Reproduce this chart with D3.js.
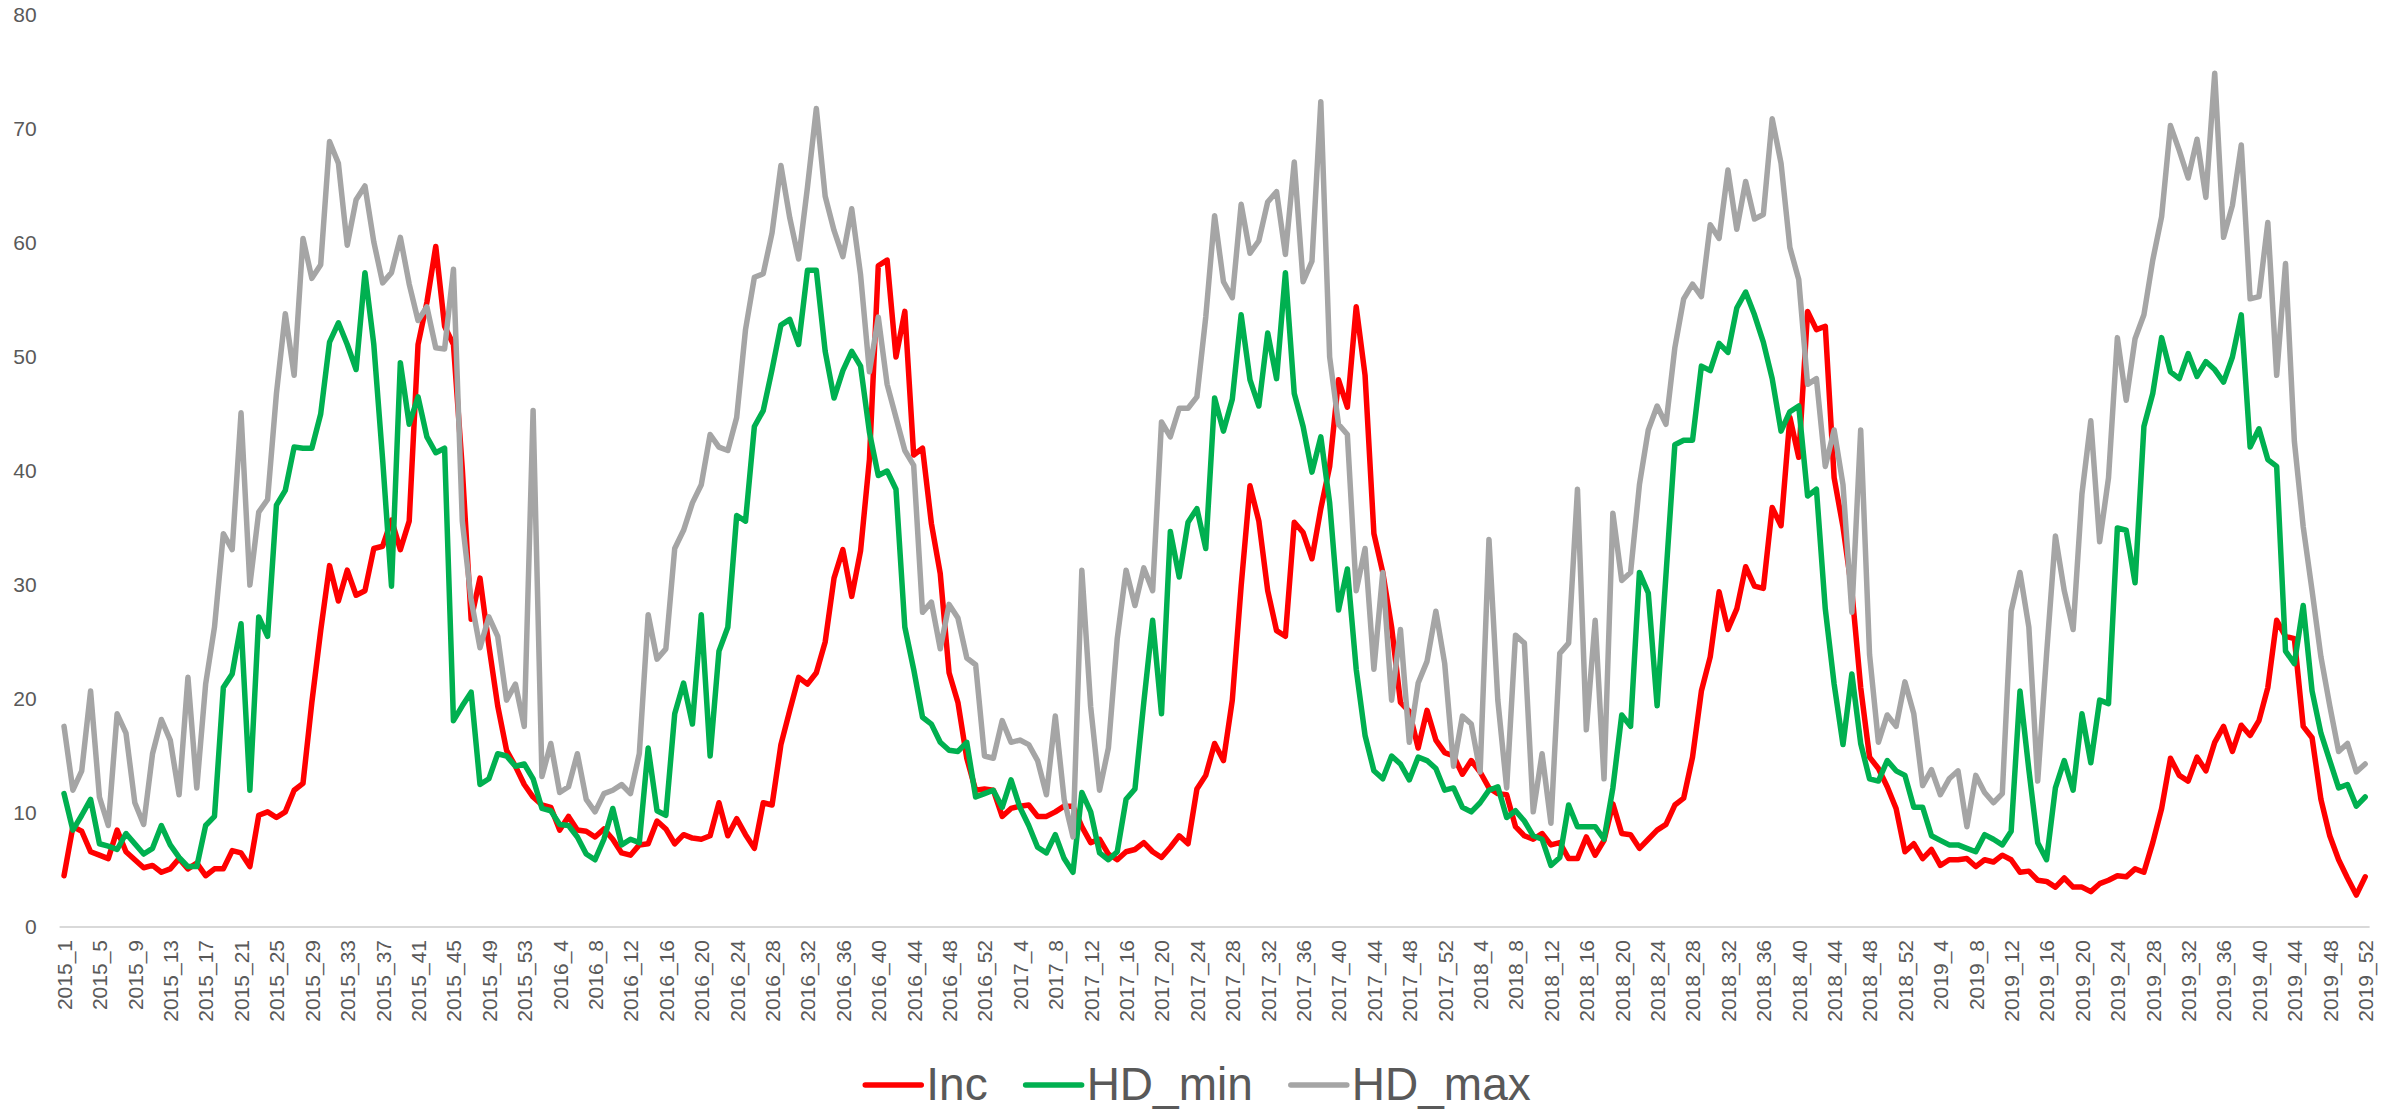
<!DOCTYPE html>
<html>
<head>
<meta charset="utf-8">
<title>Inc, HD_min, HD_max by week, 2015–2019</title>
<script src="https://cdn.jsdelivr.net/npm/d3@7"></script>
<style>
  html, body { margin: 0; padding: 0; background: #ffffff; }
  svg { display: block; }
  text { font-family: "Liberation Sans", Arial, "DejaVu Sans", sans-serif; fill: #595959; }
</style>
</head>
<body>
<svg id="chart" width="2402" height="1110"></svg>
<script>
// Weekly categories: 2015 has 53 ISO weeks, the other years 52.
const years = [2015, 2016, 2017, 2018, 2019];
const weeksInYear = [53, 52, 52, 52, 52];

// Inc (incidence), one value per week
const incValues = [
  4.5, 8.8, 8.4, 6.6, 6.3, 6.0, 8.5, 6.6, 5.9, 5.2,
  5.4, 4.8, 5.1, 6.0, 5.1, 5.6, 4.5, 5.1, 5.1, 6.7,
  6.5, 5.3, 9.8, 10.1, 9.6, 10.1, 12.0, 12.6, 19.7, 26.0,
  31.7, 28.6, 31.3, 29.1, 29.5, 33.2, 33.4, 35.7, 33.1, 35.6,
  51.1, 54.8, 59.7, 52.7, 51.1, 40.2, 27.0, 30.6, 24.7, 19.4,
  15.5, 14.1, 12.5, 11.4, 10.7, 10.5, 8.5, 9.7, 8.5, 8.4,
  7.9, 8.6, 7.7, 6.5, 6.3, 7.2, 7.3, 9.3, 8.6, 7.3,
  8.1, 7.8, 7.7, 8.0, 10.9, 8.0, 9.5, 8.1, 6.9, 10.9,
  10.7, 16.0, 19.0, 21.9, 21.3, 22.3, 25.0, 30.6, 33.1, 29.0,
  33.0, 41.0, 58.0, 58.5, 50.0, 54.0, 41.4, 42.0, 35.4, 31.0,
  22.3, 19.7, 14.8, 12.0, 12.1, 12.0, 9.7, 10.4, 10.6, 10.7,
  9.7, 9.7, 10.1, 10.6, 10.6, 8.8, 7.4, 7.7, 6.4, 5.9,
  6.6, 6.8, 7.4, 6.6, 6.1, 7.0, 8.0, 7.3, 12.1, 13.3,
  16.1, 14.6, 19.9, 29.9, 38.7, 35.6, 29.5, 26.0, 25.5, 35.5,
  34.6, 32.3, 36.7, 40.4, 48.0, 45.6, 54.4, 48.4, 34.5, 31.1,
  26.3, 19.7, 18.9, 15.7, 19.0, 16.4, 15.3, 15.0, 13.4, 14.6,
  13.6, 12.2, 11.7, 11.6, 8.8, 8.0, 7.7, 8.2, 7.2, 7.4,
  6.0, 6.0, 7.9, 6.3, 7.6, 10.8, 8.2, 8.1, 6.9, 7.7,
  8.5, 9.0, 10.7, 11.3, 14.9, 20.7, 23.7, 29.4, 26.1, 27.9,
  31.6, 29.9, 29.7, 36.8, 35.2, 44.7, 41.2, 54.0, 52.4, 52.7,
  39.4, 35.1, 29.5, 21.0, 14.9, 13.9, 12.3, 10.4, 6.6, 7.3,
  6.0, 6.8, 5.4, 5.9, 5.9, 6.0, 5.3, 5.9, 5.7, 6.3,
  5.9, 4.8, 4.9, 4.1, 4.0, 3.5, 4.3, 3.5, 3.5, 3.1,
  3.8, 4.1, 4.5, 4.4, 5.1, 4.8, 7.4, 10.4, 14.8, 13.3,
  12.8, 14.9, 13.7, 16.2, 17.6, 15.4, 17.7, 16.8, 18.1, 21.0,
  26.9, 25.5, 25.3, 17.6, 16.6, 11.2, 8.0, 5.9, 4.3, 2.8,
  4.4
];

// HD_min, one value per week
const hdMinValues = [
  11.7, 8.5, 9.8, 11.2, 7.3, 7.1, 6.8, 8.2, 7.3, 6.4,
  6.9, 8.9, 7.2, 6.1, 5.3, 5.3, 8.9, 9.7, 21.0, 22.2,
  26.6, 12.0, 27.2, 25.5, 37.0, 38.3, 42.1, 42.0, 42.0, 45.0,
  51.3, 53.0, 51.1, 48.9, 57.4, 51.1, 41.0, 29.9, 49.5, 44.1,
  46.5, 43.0, 41.6, 42.0, 18.1, 19.4, 20.6, 12.5, 13.0, 15.2,
  15.0, 14.1, 14.3, 13.0, 10.4, 10.2, 9.0, 8.9, 7.9, 6.4,
  5.9, 7.7, 10.4, 7.2, 7.7, 7.4, 15.7, 10.2, 9.8, 18.7,
  21.4, 17.8, 27.4, 15.0, 24.2, 26.3, 36.1, 35.6, 43.9, 45.3,
  48.9, 52.8, 53.3, 51.1, 57.6, 57.6, 50.5, 46.4, 48.8, 50.5,
  49.2, 43.4, 39.6, 40.0, 38.4, 26.3, 22.6, 18.4, 17.8, 16.2,
  15.5, 15.4, 16.2, 11.4, 11.7, 12.0, 10.5, 12.9, 10.5, 8.9,
  7.0, 6.5, 8.1, 6.0, 4.8, 11.8, 10.1, 6.5, 5.9, 6.6,
  11.2, 12.1, 19.7, 26.9, 18.7, 34.7, 30.7, 35.5, 36.7, 33.2,
  46.4, 43.5, 46.3, 53.7, 48.0, 45.7, 52.1, 48.1, 57.4, 46.8,
  43.9, 39.9, 43.0, 37.2, 27.8, 31.4, 22.6, 16.8, 13.7, 13.0,
  15.0, 14.3, 12.9, 14.9, 14.6, 13.9, 12.0, 12.2, 10.5, 10.1,
  10.9, 12.0, 12.3, 9.6, 10.2, 9.3, 8.0, 7.7, 5.4, 6.1,
  10.7, 8.8, 8.8, 8.8, 7.7, 12.2, 18.6, 17.6, 31.1, 29.3,
  19.4, 30.9, 42.3, 42.7, 42.7, 49.2, 48.8, 51.2, 50.4, 54.3,
  55.7, 53.7, 51.3, 48.1, 43.5, 45.2, 45.7, 37.8, 38.4, 27.9,
  21.3, 16.0, 22.2, 16.1, 13.0, 12.8, 14.6, 13.7, 13.3, 10.5,
  10.5, 8.0, 7.6, 7.2, 7.2, 6.9, 6.6, 8.1, 7.7, 7.2,
  8.4, 20.7, 13.8, 7.4, 5.9, 12.2, 14.6, 12.0, 18.7, 14.4,
  19.9, 19.6, 35.0, 34.8, 30.2, 43.9, 46.8, 51.7, 48.7, 48.1,
  50.3, 48.3, 49.6, 48.9, 47.8, 50.0, 53.7, 42.1, 43.7, 41.0,
  40.4, 24.2, 23.1, 28.2, 20.7, 17.0, 14.6, 12.2, 12.5, 10.6,
  11.4
];

// HD_max, one value per week
const hdMaxValues = [
  17.6, 12.0, 13.7, 20.7, 11.4, 8.9, 18.7, 17.0, 10.9, 9.0,
  15.2, 18.2, 16.4, 11.6, 21.9, 12.2, 21.3, 26.3, 34.5, 33.1,
  45.1, 30.0, 36.4, 37.5, 46.8, 53.8, 48.4, 60.4, 56.9, 58.1,
  68.9, 67.0, 59.8, 63.8, 65.0, 60.1, 56.5, 57.4, 60.5, 56.4,
  53.2, 54.4, 50.8, 50.7, 57.7, 35.6, 28.7, 24.5, 27.2, 25.5,
  19.9, 21.3, 17.6, 45.3, 13.2, 16.1, 11.8, 12.3, 15.2, 11.2,
  10.1, 11.7, 12.0, 12.5, 11.7, 15.2, 27.4, 23.5, 24.4, 33.2,
  34.8, 37.2, 38.8, 43.2, 42.1, 41.8, 44.7, 52.4, 57.0, 57.3,
  60.9, 66.8, 62.2, 58.6, 64.9, 71.8, 64.1, 61.1, 58.8, 63.0,
  57.2, 48.7, 53.5, 47.6, 44.7, 41.8, 40.5, 27.6, 28.5, 24.4,
  28.3, 27.1, 23.6, 23.0, 15.0, 14.8, 18.1, 16.2, 16.4, 16.0,
  14.6, 11.6, 18.5, 11.2, 7.9, 31.3, 19.3, 12.0, 15.7, 25.3,
  31.3, 28.2, 31.5, 29.5, 44.3, 43.0, 45.5, 45.5, 46.5, 53.5,
  62.4, 56.6, 55.2, 63.4, 59.1, 60.2, 63.6, 64.5, 59.0, 67.1,
  56.6, 58.4, 72.4, 50.0, 44.1, 43.2, 29.5, 33.2, 22.6, 31.1,
  19.9, 26.1, 16.2, 21.4, 23.3, 27.7, 23.1, 14.1, 18.5, 17.8,
  13.6, 34.0, 19.9, 12.2, 25.6, 24.9, 10.1, 15.2, 9.1, 24.0,
  24.9, 38.4, 17.3, 26.9, 13.0, 36.3, 30.4, 31.1, 38.8, 43.6,
  45.7, 44.1, 50.8, 55.1, 56.4, 55.3, 61.6, 60.4, 66.4, 61.2,
  65.4, 62.1, 62.5, 70.9, 67.0, 59.6, 56.8, 47.6, 48.1, 40.4,
  43.6, 38.8, 27.6, 43.6, 23.9, 16.2, 18.6, 17.6, 21.5, 18.7,
  12.4, 13.8, 11.6, 13.0, 13.7, 8.8, 13.3, 11.8, 10.9, 11.7,
  27.7, 31.1, 26.3, 12.8, 23.9, 34.3, 29.5, 26.1, 38.0, 44.4,
  33.8, 39.4, 51.7, 46.2, 51.6, 53.7, 58.5, 62.3, 70.3, 68.1,
  65.7, 69.1, 64.0, 74.9, 60.5, 63.3, 68.6, 55.1, 55.3, 61.8,
  48.4, 58.2, 42.6, 35.1, 29.5, 23.7, 19.4, 15.4, 16.1, 13.6,
  14.3
];

const seriesNames = ["Inc", "HD_min", "HD_max"];
const seriesColors = ["#FF0000", "#00B050", "#A5A5A5"];
const yTicks = [0, 10, 20, 30, 40, 50, 60, 70, 80];
const labelStep = 4;   // every 4th week carries a label

// Category names like "2015_1" … "2019_52"
const weeks = years.flatMap((yr, k) =>
  d3.range(1, weeksInYear[k] + 1).map(w => `${yr}_${w}`));
const weekLabels = weeks.filter((_, i) => i % labelStep === 0);

const series = [incValues, hdMinValues, hdMaxValues].map((values, k) => ({
  name: seriesNames[k], color: seriesColors[k], values
}));

const svg = d3.select("#chart");
const plot = { left: 59.6, right: 2369.6, top: 15, bottom: 927 };

const x = d3.scalePoint()
  .domain(weeks)
  .range([plot.left, plot.right])
  .padding(0.5);

const y = d3.scaleLinear()
  .domain([0, 80])
  .range([plot.bottom, plot.top]);

// Value axis: labels only
const yAxis = svg.append("g")
  .attr("transform", `translate(${plot.left},0)`)
  .call(d3.axisLeft(y).tickValues(yTicks).tickSize(0).tickPadding(23));
yAxis.select(".domain").remove();
yAxis.selectAll("text")
  .attr("font-size", 21)
  .attr("font-family", null)
  .attr("fill", "#595959");

// Category axis: baseline and rotated week labels
const xAxis = svg.append("g")
  .attr("transform", `translate(0,${plot.bottom})`)
  .call(d3.axisBottom(x).tickValues(weekLabels).tickSize(0));
xAxis.select(".domain").remove();
xAxis.selectAll("text")
  .attr("font-size", 21)
  .attr("font-family", null)
  .attr("fill", "#595959")
  .attr("transform", "rotate(-90)")
  .attr("x", -13)
  .attr("y", 0)
  .attr("dy", "0.35em")
  .style("text-anchor", "end");

svg.append("line")
  .attr("x1", plot.left).attr("x2", plot.right)
  .attr("y1", y(0)).attr("y2", y(0))
  .attr("stroke", "#D9D9D9")
  .attr("stroke-width", 2);

// Series lines, drawn in legend order so HD_max sits on top
const line = d3.line()
  .x((d, i) => x(weeks[i]))
  .y(d => y(d));

svg.append("g")
  .selectAll("path")
  .data(series)
  .join("path")
  .attr("d", d => line(d.values))
  .attr("fill", "none")
  .attr("stroke", d => d.color)
  .attr("stroke-width", 5.5)
  .attr("stroke-linejoin", "round")
  .attr("stroke-linecap", "round");

// Legend, centred under the plot
const legend = svg.append("g");
const swatch = 56, swatchGap = 5, itemGap = 38, legendY = 1085;
const items = legend.selectAll("g")
  .data(series)
  .join("g");
items.append("line")
  .attr("x1", 0).attr("x2", swatch)
  .attr("y1", 0).attr("y2", 0)
  .attr("stroke", d => d.color)
  .attr("stroke-width", 5.5)
  .attr("stroke-linecap", "round");
items.append("text")
  .attr("x", swatch + swatchGap)
  .attr("y", 15)
  .attr("font-size", 46)
  .text(d => d.name);

let offset = 0;
const widths = [];
items.each(function () {
  const w = swatch + swatchGap + d3.select(this).select("text").node().getComputedTextLength();
  widths.push(w);
});
const total = d3.sum(widths) + itemGap * (widths.length - 1);
const startX = 1198 - total / 2;
items.attr("transform", (d, i) => {
  const tx = startX + offset;
  offset += widths[i] + itemGap;
  return `translate(${tx},${legendY})`;
});
</script>
</body>
</html>
